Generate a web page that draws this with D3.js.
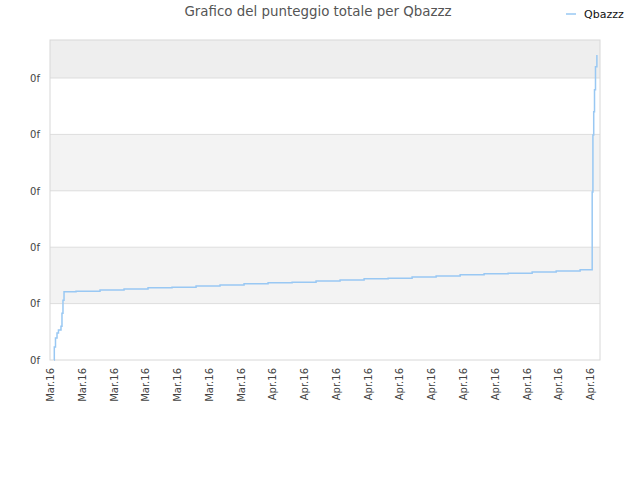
<!DOCTYPE html>
<html>
<head>
<meta charset="utf-8">
<script src="https://cdn.jsdelivr.net/npm/d3@7"></script>
<style>
  body { margin: 0; background: #fff; }
  text { font-family: "DejaVu Sans", sans-serif; }
</style>
</head>
<body>
<svg id="chart"></svg>
<script>
// hours after 19 Mar 2016 00:00, and the total score at that moment
const hours = [6.0, 6.5, 8.3, 10.6, 12.8, 16.6, 18.1, 19.6, 21.2,
  39.3, 75.6, 111.9, 148.1, 184.4, 220.7, 256.9, 293.2, 329.5, 365.8, 402.0,
  438.3, 474.6, 510.9, 547.1, 583.4, 619.7, 655.9, 692.2, 728.5, 764.8, 801.0,
  819.2, 820.3, 821.5, 822.7, 824.2, 826.3];
const scores = [0, 0.23, 0.39, 0.48, 0.53, 0.60, 0.83, 1.06, 1.21,
  1.22, 1.24, 1.26, 1.28, 1.29, 1.31, 1.33, 1.35, 1.37, 1.38, 1.40,
  1.42, 1.44, 1.45, 1.47, 1.49, 1.51, 1.53, 1.54, 1.56, 1.58, 1.60,
  2.98, 3.99, 4.40, 4.79, 5.20, 5.41];

const yTicks = [0, 1, 2, 3, 4, 5];
const yTickLabels = ['0f', '0f', '0f', '0f', '0f', '0f'];
const xTickLabels = ['Mar.16', 'Mar.16', 'Mar.16', 'Mar.16', 'Mar.16', 'Mar.16', 'Mar.16',
  'Apr.16', 'Apr.16', 'Apr.16', 'Apr.16', 'Apr.16', 'Apr.16', 'Apr.16', 'Apr.16',
  'Apr.16', 'Apr.16', 'Apr.16'];
const seriesName = 'Qbazzz';

const width = 640, height = 480;
const margin = { top: 40, right: 40, bottom: 120, left: 50 };
const w = width - margin.left - margin.right;
const h = height - margin.top - margin.bottom;

const start = new Date(2016, 2, 19);
const end = d3.timeHour.offset(start, 831);
const data = hours.map((hr, i) => ({ t: d3.timeMinute.offset(start, Math.round(hr * 60)), v: scores[i] }));

const svg = d3.select('#chart').attr('width', width).attr('height', height);

const x = d3.scaleTime().domain([start, end]).range([0, w]);
const y = d3.scaleLinear().domain([0, 5.674]).range([h, 0]);

const g = svg.append('g').attr('transform', `translate(${margin.left},${margin.top})`);

// alternating bands
const bands = [0, 1, 2, 3, 4, 5].map(i => [i, Math.min(i + 1, 5.674)]);
g.selectAll('rect.band')
  .data(bands)
  .enter()
  .append('rect')
  .attr('x', 0)
  .attr('width', w)
  .attr('y', d => y(d[1]))
  .attr('height', d => y(d[0]) - y(d[1]))
  .attr('fill', (d, i) => i === 5 ? '#eeeeee' : (i % 2 === 1 ? '#f3f3f3' : '#ffffff'));

g.selectAll('line.grid')
  .data(yTicks.slice(1))
  .enter()
  .append('line')
  .attr('x1', 0)
  .attr('x2', w)
  .attr('y1', d => y(d))
  .attr('y2', d => y(d))
  .attr('stroke', '#dddddd');

g.append('rect')
  .attr('width', w)
  .attr('height', h)
  .attr('fill', 'none')
  .attr('stroke', '#d8d8d8');

const yAxis = g.append('g')
  .call(d3.axisLeft(y).tickValues(yTicks).tickSize(0).tickPadding(10)
    .tickFormat((d, i) => yTickLabels[i]));
yAxis.select('.domain').remove();
yAxis.selectAll('text').style('font-size', '10px').attr('fill', '#444');

const xTicks = d3.timeDay.range(start, end, 2).slice(0, xTickLabels.length);
const xAxis = g.append('g')
  .attr('transform', `translate(0,${h})`)
  .call(d3.axisBottom(x).tickValues(xTicks).tickSize(0)
    .tickFormat((d, i) => xTickLabels[i]));
xAxis.select('.domain').remove();
xAxis.selectAll('text')
  .style('font-size', '10px')
  .attr('fill', '#444')
  .attr('text-anchor', 'end')
  .attr('transform', 'rotate(-90)')
  .attr('x', -8)
  .attr('y', 0)
  .attr('dy', '0.35em');

const line = d3.line()
  .x(d => x(d.t))
  .y(d => y(d.v))
  .curve(d3.curveStepAfter);

g.append('path')
  .datum(data)
  .attr('d', line)
  .attr('fill', 'none')
  .attr('stroke', '#99c8f3')
  .attr('stroke-width', 1.5);

svg.append('text')
  .attr('x', 318)
  .attr('y', 16)
  .attr('text-anchor', 'middle')
  .style('font-size', '13.4px')
  .attr('fill', '#555')
  .text('Grafico del punteggio totale per Qbazzz');

const legend = svg.append('g').attr('transform', 'translate(566,14)');
legend.append('line')
  .attr('x1', 0).attr('x2', 10)
  .attr('stroke', '#99c8f3').attr('stroke-width', 1.5);
legend.append('text')
  .attr('x', 18)
  .attr('dy', '0.35em')
  .style('font-size', '11px')
  .attr('fill', '#111')
  .text(seriesName);
</script>
</body>
</html>
